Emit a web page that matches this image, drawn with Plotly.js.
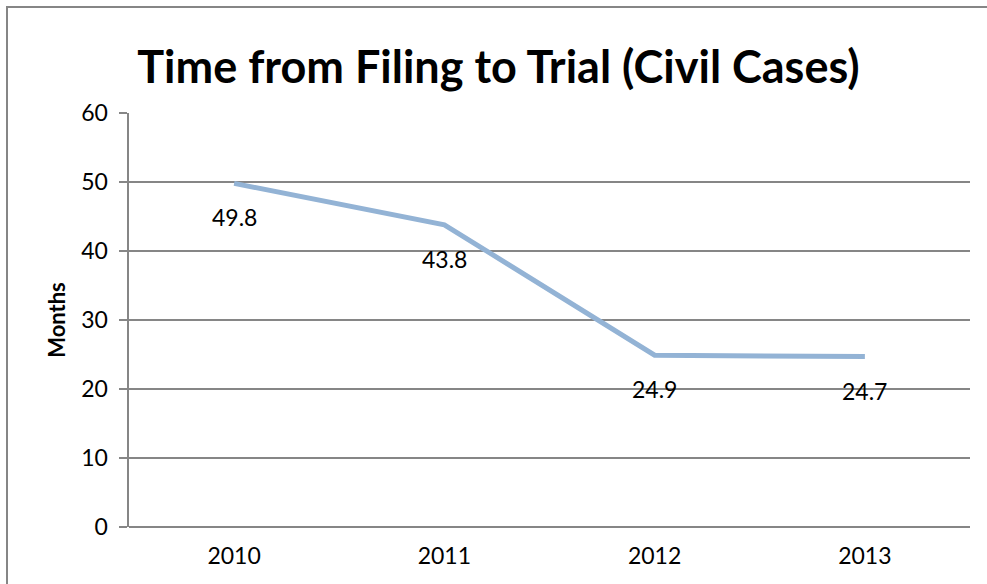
<!DOCTYPE html>
<html>
<head>
<meta charset="utf-8">
<script src="https://cdn.plot.ly/plotly-3.0.1.min.js"></script>
<style>
	body { margin: 0; background: #ffffff; }
	#wrap { position: relative; width: 987px; height: 584px; overflow: hidden; }
	#frame { position: absolute; left: 6px; top: 6px; width: 1000px; height: 600px; border: 2px solid #868686; pointer-events: none; }
</style>
</head>
<body>
<div id="wrap">
	<div id="chart" style="width:987px;height:584px;"></div>
	<div id="frame"></div>
</div>
<script>
var years = ["2010", "2011", "2012", "2013"];
var months = [49.8, 43.8, 24.9, 24.7];
var value_labels = ["49.8", "43.8", "24.9", "24.7"];

var font_family = "Lato, 'DejaVu Sans', sans-serif";
var grid_color = "#868686";
var text_size = 23;

var line_trace = {
	mode: "lines",
	x: years,
	y: months,
	hoverinfo: "skip",
	line: {
		color: "#93B3D5",
		width: 5
	}
};

// the value labels sit a fixed distance under each point, like excel does it
// (x given as category index, a "2010" string gets read as index 2010)
var labels = [];
for (var i = 0; i < years.length; i++) {
	labels.push({
		x: i,
		y: months[i],
		xref: "x",
		yref: "y",
		text: value_labels[i],
		showarrow: false,
		yshift: -34,
		font: { family: font_family, size: text_size, color: "#000000" }
	});
}

var layout = {
	width: 987,
	height: 584,
	paper_bgcolor: "#ffffff",
	plot_bgcolor: "#ffffff",
	showlegend: false,
	margin: { l: 129, r: 17, t: 113, b: 57 },
	title: {
		text: "<b>Time from Filing to Trial (Civil Cases)</b>",
		font: { family: font_family, size: 45, color: "#000000" },
		x: 0.505,
		xanchor: "center",
		y: 0.885,
		yanchor: "middle"
	},
	xaxis: {
		type: "category",
		range: [-0.5, 3.5],
		showgrid: false,
		zeroline: false,
		showline: false,
		ticks: "",
		ticklabelstandoff: 13,
		tickfont: { family: font_family, size: text_size, color: "#000000" },
		fixedrange: true
	},
	yaxis: {
		range: [0, 60],
		dtick: 10,
		showgrid: true,
		gridcolor: grid_color,
		gridwidth: 2.5,
		zeroline: true,
		zerolinecolor: grid_color,
		zerolinewidth: 2.5,
		showline: true,
		linecolor: grid_color,
		linewidth: 2.5,
		ticks: "outside",
		ticklen: 8,
		tickwidth: 2.5,
		tickcolor: grid_color,
		ticklabelstandoff: 6,
		tickfont: { family: font_family, size: text_size, color: "#000000" },
		title: {
			text: "<b>Months</b>",
			font: { family: font_family, size: 22, color: "#000000" },
			standoff: 10
		},
		fixedrange: true
	},
	annotations: labels
};

Plotly.newPlot("chart", [line_trace], layout, { displayModeBar: false, staticPlot: true });
</script>
</body>
</html>
